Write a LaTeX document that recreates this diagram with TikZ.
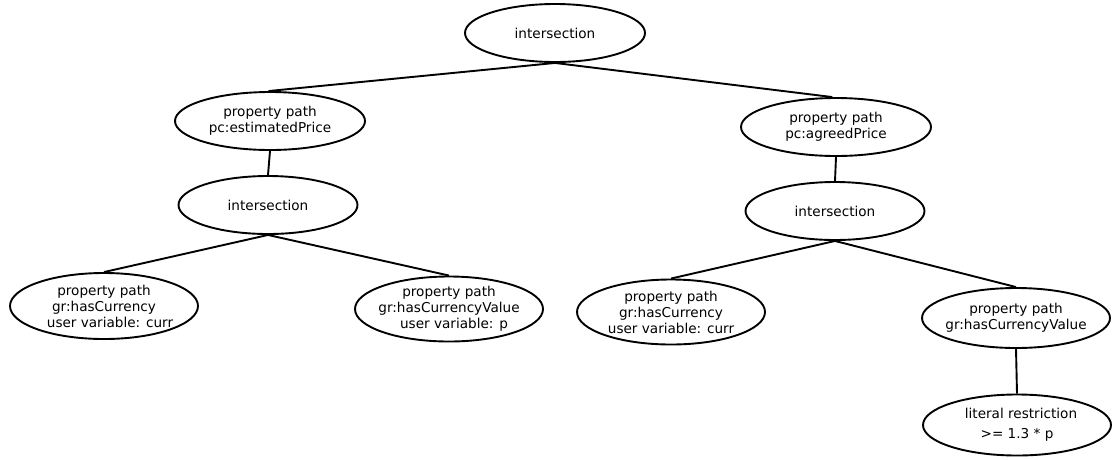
\documentclass[tikz,border=0pt]{standalone}
\usepackage{fontspec}
\setmainfont{DejaVu Sans}
\usetikzlibrary{shapes.geometric}
\begin{document}
\begin{tikzpicture}[x=1pt,y=-1pt,
  el/.style={ellipse,draw,line width=1.9pt,inner xsep=-40pt,inner ysep=-12pt,align=center,
    font=\fontsize{13.6}{16}\selectfont},
  conn/.style={line width=1.9pt}]
\useasboundingbox (0,0) rectangle (1115,459);
\node[el,minimum width=180,minimum height=58] (top) at (555,33) {intersection};
\node[el,minimum width=190,minimum height=58] (ppL) at (270,121) {property path\\pc:estimatedPrice};
\node[el,minimum width=190,minimum height=58] (ppR) at (836,127) {property path\\pc:agreedPrice};
\node[el,minimum width=179,minimum height=58] (intL) at (268,205) {intersection};
\node[el,minimum width=179,minimum height=58] (intR) at (835,211) {intersection};
\node[el,minimum width=188,minimum height=66] (hcL) at (104,306) {property path\\gr:hasCurrency\\\hspace*{12pt}user variable: curr};
\node[el,minimum width=188,minimum height=65] (hcvL) at (449,309) {property path\\gr:hasCurrencyValue\\\hspace*{10pt}user variable: p};
\node[el,minimum width=188,minimum height=65] (hcR) at (671,312) {property path\\gr:hasCurrency\\user variable: curr};
\node[el,minimum width=188,minimum height=60] (hcvR) at (1016,318) {property path\\gr:hasCurrencyValue};
\node[el,minimum width=188,minimum height=61] (lit) at (1017,425) {\hspace*{8pt}literal restriction\\[4pt]>= 1.3 * p};
\draw[conn] (top.south) -- (ppL.93);
\draw[conn] (top.south) -- (ppR.97);
\draw[conn] (ppL.south) -- (intL.north);
\draw[conn] (ppR.south) -- (intR.north);
\draw[conn] (intL.south) -- (hcL.north);
\draw[conn] (intL.south) -- (hcvL.north);
\draw[conn] (intR.south) -- (hcR.north);
\draw[conn] (intR.south) -- (hcvR.north);
\draw[conn] (hcvR.south) -- (lit.north);
\end{tikzpicture}
\end{document}
